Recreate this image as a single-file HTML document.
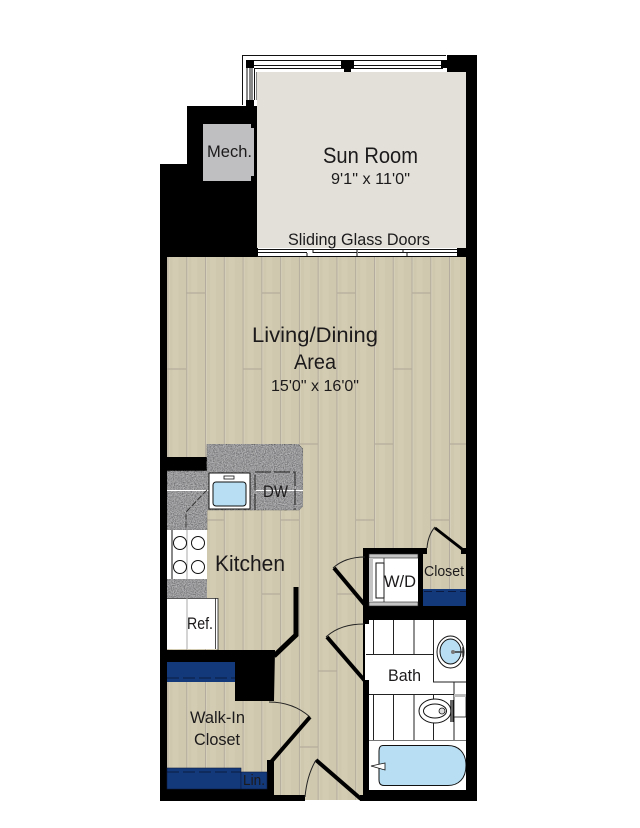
<!DOCTYPE html>
<html><head><meta charset="utf-8">
<style>html,body{margin:0;padding:0;background:#fff}svg{display:block}
text{font-family:"Liberation Sans",sans-serif;fill:#1c1a1b}</style></head>
<body>
<svg width="640" height="828" viewBox="0 0 640 828" xmlns="http://www.w3.org/2000/svg">
<defs>
<filter id="gr" x="0" y="0" width="100%" height="100%">
<feTurbulence type="fractalNoise" baseFrequency="0.9" numOctaves="2" seed="4"/>
<feColorMatrix type="matrix" values="0 0 0 0 0.62  0 0 0 0 0.62  0 0 0 0 0.63  1.4 0 0 0 -0.35"/>
<feComposite in2="SourceGraphic" operator="in" result="n"/>
<feMerge><feMergeNode in="SourceGraphic"/><feMergeNode in="n"/></feMerge>
</filter>
<pattern id="pl" x="167.5" y="0" width="18.77" height="10" patternUnits="userSpaceOnUse">
<rect width="18.77" height="10" fill="#d0c8ae"/>
<rect x="5" width="6" height="10" fill="#d3ccb3"/>
<rect x="0" width="1" height="10" fill="#b3ab9d"/>
<rect x="1" width="1" height="10" fill="#d6d0ba"/>
</pattern>
</defs>

<!-- outer black mass -->
<path d="M447 55H477V801H160V164H187V106H242V100H257V72H447Z" fill="#000"/>

<!-- window frame top/left -->
<rect x="242" y="55" width="205" height="18" fill="#fff"/>
<rect x="242" y="55" width="15" height="51" fill="#fff"/>
<path d="M242.500 105V55.500H446M247 100V60.500H446M250 100V65.500H443M254.500 100V68.500H443M257 100V72.500H446M252 100V66" fill="none" stroke="#111" stroke-width="1"/>
<rect x="246" y="60" width="8" height="8" fill="#000"/>
<rect x="341" y="60" width="13" height="8" fill="#000"/>
<rect x="344" y="60" width="7" height="13" fill="#000"/>
<rect x="441" y="60" width="7" height="8" fill="#000"/>
<rect x="246" y="100" width="8" height="7" fill="#000"/>

<!-- sun room -->
<rect x="257" y="72" width="209" height="176" fill="#e2e0d8"/>
<rect x="447" y="55" width="19" height="17" fill="#000"/>

<!-- sliding doors -->
<rect x="258" y="248" width="199" height="9" fill="#fff"/>
<path d="M258 249.500H457M258 252.500H307M313 252.500H357M358 252.500H407M407 252.500H457M257 256.500H458M313 249V253M307 253V257M357 249V257M403 249V253M407 253V257" stroke="#111" stroke-width="1" fill="none"/>
<rect x="457" y="250" width="9" height="7" fill="#000"/>

<!-- mech -->
<path d="M203 124H251V128H254V176H251V181H203Z" fill="#bfbfc1"/>

<!-- floor -->
<rect x="167" y="257" width="299" height="395" fill="url(#pl)"/>
<rect x="167" y="662" width="196" height="128" fill="url(#pl)"/>
<rect x="274" y="640" width="89" height="160" fill="url(#pl)"/>
<path d="M186 293H205M262 293H280M337 293H356M412 293H431M167 369H186M243 369H262M393 369H412M299 444H318M374 444H393M449 444H466M207 520H224M280 520H299M356 520H374M431 520H449M262 594H280M337 594H356M412 594H423M318 671H337M186 671H205M299 747H318" stroke="#b5ad9c" stroke-width="1.200" fill="none"/>

<!-- walls in lower area -->
<rect x="160" y="457" width="47" height="14" fill="#000"/>
<rect x="160" y="257" width="7" height="544" fill="#000"/>
<rect x="466" y="55" width="11" height="746" fill="#000"/>
<path d="M160 650H275L274 701H235V662H160Z" fill="#000"/>
<rect x="160" y="789" width="114" height="12" fill="#000"/>
<rect x="274" y="795" width="31" height="6" fill="#000"/>
<rect x="267" y="760" width="7" height="30" fill="#000"/>
<rect x="363" y="620" width="6" height="181" fill="#000"/>
<rect x="360" y="795" width="117" height="6" fill="#000"/>
<rect x="363" y="790" width="114" height="11" fill="#000"/>
<rect x="305" y="800" width="55" height="2" fill="#fff"/>
<rect x="363" y="548" width="64" height="6" fill="#000"/>
<rect x="363" y="548" width="6" height="72" fill="#000"/>
<rect x="363" y="606" width="103" height="14" fill="#000"/>
<rect x="418" y="548" width="5" height="60" fill="#000"/>

<!-- closet nook -->
<rect x="423" y="554" width="43" height="35" fill="url(#pl)"/>
<rect x="423" y="589" width="43" height="17" fill="#14397a"/>
<path d="M424 591.500H466" stroke="#0a1a40" stroke-width="1" stroke-dasharray="8 4"/>

<!-- door leaves -->
<path d="M296 587V635L274 656" fill="none" stroke="#000" stroke-width="5"/>
<path d="M271 762L310 717" fill="none" stroke="#000" stroke-width="4"/>
<path d="M316 760L361 799" fill="none" stroke="#000" stroke-width="4"/>
<path d="M327 637L365 681" fill="none" stroke="#000" stroke-width="4"/>
<path d="M334 568L365 605" fill="none" stroke="#000" stroke-width="4"/>
<path d="M435 528L462 549" fill="none" stroke="#000" stroke-width="3"/>
<rect x="461" y="548" width="6" height="6" fill="#000"/>
<path d="M269 702Q293 702 310 717M316 760Q307 775 305 797M326 637Q340 624 364 624M333 568Q345 557 365 557M435 527Q428 535 427 548" fill="none" stroke="#222" stroke-width="1"/>

<!-- counters -->
<path d="M207 444H298L303 449V506L299 510H207V530H167V471H207Z" fill="#6d6d70" filter="url(#gr)" stroke="#111" stroke-width=".6"/>
<rect x="167" y="579" width="40" height="19" fill="#6d6d70" filter="url(#gr)"/>
<path d="M167 490.500H209M254 490.500H303" stroke="#fff" stroke-width="1"/>
<path d="M207 490L186 512V530" fill="none" stroke="#222" stroke-width=".8" stroke-dasharray="6 2"/>
<path d="M255 510V472H295V510" fill="none" stroke="#222" stroke-width="1" stroke-dasharray="16 3"/>

<!-- sink -->
<rect x="209" y="473" width="41" height="36" fill="#fff" stroke="#111" stroke-width="1"/>
<rect x="213" y="482" width="33" height="24" rx="3" fill="#b7def2" stroke="#111" stroke-width="1"/>
<rect x="224" y="476" width="10" height="3" fill="#fff" stroke="#111" stroke-width=".8"/>

<!-- range -->
<rect x="167" y="530" width="40" height="49" fill="#fff"/>
<path d="M172 530V579" stroke="#111" stroke-width="1"/>
<path d="M187 530V579" stroke="#aaa" stroke-width="1"/>
<g fill="#fff" stroke="#111" stroke-width="1"><circle cx="180" cy="543" r="6.500"/><circle cx="198" cy="543" r="6.500"/><circle cx="180" cy="567" r="6.500"/><circle cx="198" cy="567" r="6.500"/></g>

<!-- fridge -->
<rect x="167" y="598" width="51" height="51" fill="#fff"/>
<path d="M215.500 598V649M218 598V650M167 598.500H218" stroke="#222" stroke-width=".8"/>
<path d="M187 598V649" stroke="#aaa" stroke-width="1"/>

<!-- walk-in shelves -->
<rect x="167" y="662" width="68" height="20" fill="#14397a"/>
<path d="M167 678H235" stroke="#0a1a40" stroke-width="1" stroke-dasharray="12 4"/>
<rect x="167" y="768" width="74" height="21" fill="#14397a" stroke="#0a1a40" stroke-width=".6"/>
<path d="M167 772H241" stroke="#0a1a40" stroke-width="1" stroke-dasharray="12 4"/>
<rect x="241" y="772" width="26" height="17" fill="#14397a" stroke="#0a1a40" stroke-width=".6"/>

<!-- W/D -->
<rect x="369" y="554" width="49" height="52" fill="#fff"/>
<rect x="369" y="554" width="49" height="4" fill="#c4c4c4" stroke="#222" stroke-width=".6"/>
<rect x="369" y="602" width="49" height="4" fill="#c4c4c4" stroke="#222" stroke-width=".6"/>
<rect x="369" y="558" width="4" height="44" fill="#c4c4c4"/>
<rect x="376" y="563" width="8" height="35" fill="#fff" stroke="#111" stroke-width="1"/>
<path d="M384 558V602" stroke="#222" stroke-width=".8"/>

<!-- bath -->
<rect x="369" y="620" width="97" height="170" fill="#fff"/>
<rect x="365" y="624" width="4" height="56" fill="#fff"/>
<g stroke="#222" stroke-width="1" fill="none">
<path d="M373.500 620V654M373.500 694V740M393.500 620V654M393.500 694V740M414 620V654M414 694V740M433.500 620V682H466M433.500 694V740M454 682V740M366 654.500H433M369 694.500H466"/>
</g>
<path d="M369 740.500H466" stroke="#777" stroke-width="1"/>
<!-- sink -->
<ellipse cx="450.500" cy="652" rx="13.500" ry="16" fill="#fff" stroke="#111" stroke-width="1"/>
<ellipse cx="450.500" cy="651.500" rx="10.500" ry="12.500" fill="#b7def2" stroke="#111" stroke-width="1"/>
<path d="M453 652H463M463 647V657" stroke="#333" stroke-width="1.500"/>
<circle cx="453" cy="652" r="2" fill="#777"/>
<!-- toilet -->
<rect x="454" y="695" width="12" height="22" fill="#fff" stroke="#111" stroke-width=".8"/>
<rect x="454" y="694" width="12" height="3" fill="#bbb"/>
<ellipse cx="435" cy="711" rx="16" ry="12" fill="#fff" stroke="#111" stroke-width="1"/>
<ellipse cx="435" cy="711" rx="11.500" ry="7" fill="#fff" stroke="#111" stroke-width="1"/>
<circle cx="442" cy="711" r="3" fill="#ddd" stroke="#111" stroke-width=".8"/>
<path d="M451 700V722M453 700V722" stroke="#111" stroke-width="1.300"/>
<!-- tub -->
<path d="M383 745.500H448C458 745.500 466 752 466 765.500C466 779 458 785.500 448 785.500H384Q379 785.500 379 780V751Q379 745.500 383 745.500Z" fill="#b7def2" stroke="#111" stroke-width="1"/>
<path d="M371 766L385 763V770Z" fill="#fff" stroke="#111" stroke-width=".8"/>
<rect x="466" y="620" width="11" height="181" fill="#000"/>

<!-- labels -->
<text x="323" y="163" font-size="22" textLength="95" lengthAdjust="spacingAndGlyphs">Sun Room</text>
<text x="331" y="184" font-size="16" textLength="79" lengthAdjust="spacingAndGlyphs">9'1" x 11'0"</text>
<text x="288" y="245" font-size="17" textLength="142" lengthAdjust="spacingAndGlyphs">Sliding Glass Doors</text>
<text x="207" y="157" font-size="17" textLength="45" lengthAdjust="spacingAndGlyphs">Mech.</text>
<text x="252" y="342" font-size="21" textLength="126" lengthAdjust="spacingAndGlyphs">Living/Dining</text>
<text x="294" y="369" font-size="21" textLength="42" lengthAdjust="spacingAndGlyphs">Area</text>
<text x="271" y="391" font-size="16" textLength="88" lengthAdjust="spacingAndGlyphs">15'0" x 16'0"</text>
<text x="215" y="571" font-size="22" textLength="70" lengthAdjust="spacingAndGlyphs">Kitchen</text>
<text x="263" y="497" font-size="17" textLength="25" lengthAdjust="spacingAndGlyphs">DW</text>
<text x="187" y="629" font-size="17" textLength="26" lengthAdjust="spacingAndGlyphs">Ref.</text>
<text x="384" y="587" font-size="17" textLength="32" lengthAdjust="spacingAndGlyphs">W/D</text>
<text x="424" y="576" font-size="15" textLength="40" lengthAdjust="spacingAndGlyphs">Closet</text>
<text x="388" y="681" font-size="17" textLength="33" lengthAdjust="spacingAndGlyphs">Bath</text>
<text x="190" y="723" font-size="17" textLength="55" lengthAdjust="spacingAndGlyphs">Walk-In</text>
<text x="194" y="745" font-size="17" textLength="46" lengthAdjust="spacingAndGlyphs">Closet</text>
<text x="243" y="785" font-size="15" textLength="22" lengthAdjust="spacingAndGlyphs">Lin.</text>
</svg>
</body></html>
